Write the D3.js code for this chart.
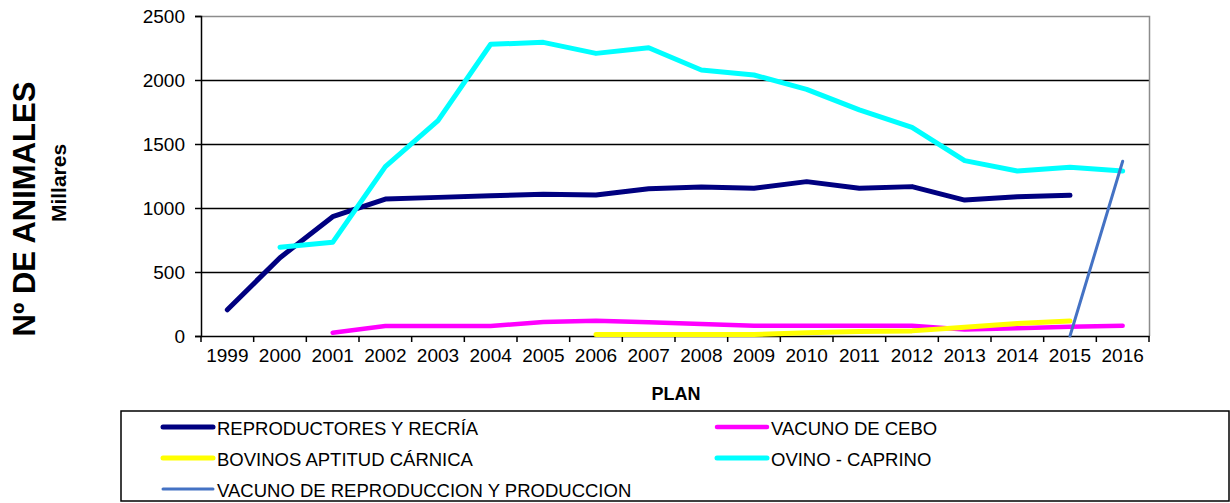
<!DOCTYPE html>
<html>
<head>
<meta charset="utf-8">
<script src="https://cdn.jsdelivr.net/npm/d3@7"></script>
<style>
  body { margin: 0; background: #fff; }
  text { font-family: "Liberation Sans", Arial, sans-serif; fill: #000; }
</style>
</head>
<body>
<div class="chart"></div>
<script>
// values (thousands of animals)
var years = ["1999", "2000", "2001", "2002", "2003", "2004", "2005", "2006", "2007",
             "2008", "2009", "2010", "2011", "2012", "2013", "2014", "2015", "2016"];
var yTicks = [0, 500, 1000, 1500, 2000, 2500];

var reproductores = [205, 612, 932, 1070, 1083, 1096, 1107, 1101, 1151, 1164, 1154, 1206, 1154, 1167, 1062, 1088, 1099, null];
var vacunoCebo    = [null, null, 25, 78, 78, 78, 110, 120, 107, 94, 80, 80, 80, 80, 50, 60, 72, 80];
var bovinos       = [null, null, null, null, null, null, null, 12, 12, 12, 12, 25, 35, 40, 68, 97, 118, null];
var ovino         = [null, 693, 732, 1323, 1682, 2279, 2294, 2208, 2252, 2078, 2039, 1927, 1766, 1630, 1370, 1289, 1318, 1289];
var vacunoRepro   = [null, null, null, null, null, null, null, null, null, null, null, null, null, null, null, null, 0, 1365];

var series = [
    {name: "REPRODUCTORES Y RECRÍA", values: reproductores, color: "#000080", w: 5},
    {name: "VACUNO DE CEBO", values: vacunoCebo, color: "#ff00ff", w: 4.5},
    {name: "BOVINOS APTITUD CÁRNICA", values: bovinos, color: "#ffff00", w: 5},
    {name: "OVINO - CAPRINO", values: ovino, color: "#00ffff", w: 5},
    {name: "VACUNO DE REPRODUCCION Y PRODUCCION", values: vacunoRepro, color: "#4472c4", w: 3}
];

var width = 1230, height = 503;
var plot = {left: 201, right: 1149, top: 16, bottom: 336};

var svg = d3.select(".chart")
    .append("svg")
    .attr("width", width)
    .attr("height", height);

var x = d3.scaleBand().domain(years).range([plot.left, plot.right]).padding(0);
var y = d3.scaleLinear().domain([0, 2500]).range([plot.bottom, plot.top]);

// gridlines
svg.selectAll(".grid")
    .data(yTicks.filter(function(d) { return d > 0 && d < 2500; }))
    .enter().append("line")
    .attr("x1", plot.left).attr("x2", plot.right)
    .attr("y1", function(d) { return y(d) + 0.5; })
    .attr("y2", function(d) { return y(d) + 0.5; })
    .attr("stroke", "#000").attr("stroke-width", 1.3);

// top and right border (grey)
svg.append("path")
    .attr("d", "M" + plot.left + "," + (y(2500) + 0.5) + "H" + (plot.right + 0.5) + "V" + plot.bottom)
    .attr("fill", "none").attr("stroke", "#8c8c8c").attr("stroke-width", 1.5);

// Y axis
var yAxis = d3.axisLeft(y).tickValues(yTicks).tickFormat(d3.format("d")).tickSize(6).tickPadding(10);
var gy = svg.append("g")
    .attr("transform", "translate(" + plot.left + ",0)")
    .call(yAxis);
gy.select(".domain").attr("stroke", "#000").attr("stroke-width", 1.5);
gy.selectAll(".tick line").attr("stroke", "#000").attr("stroke-width", 1.5);
gy.selectAll(".tick text").style("font-size", "19px").attr("fill", "#000");

// X axis, ticks on category boundaries
var xAxis = d3.axisBottom(x).tickSize(0).tickPadding(13);
var gx = svg.append("g")
    .attr("transform", "translate(0," + plot.bottom + ")")
    .call(xAxis);
gx.select(".domain").attr("stroke", "#000").attr("stroke-width", 1.5);
gx.selectAll(".tick text").style("font-size", "19px").attr("fill", "#000").attr("dy", "0.71em");

gx.selectAll(".sep")
    .data(years.concat(["end"]))
    .enter().append("line")
    .attr("x1", function(d, i) { return i < years.length ? x(d) : plot.right; })
    .attr("x2", function(d, i) { return i < years.length ? x(d) : plot.right; })
    .attr("y1", 0).attr("y2", 6)
    .attr("stroke", "#000").attr("stroke-width", 1.5);

// series lines
var line = d3.line()
    .defined(function(d) { return d != null; })
    .x(function(d, i) { return x(years[i]) + x.bandwidth() / 2; })
    .y(function(d) { return y(d); });

svg.selectAll(".serie")
    .data(series)
    .enter().append("path")
    .attr("class", "serie")
    .attr("d", function(s) { return line(s.values); })
    .attr("fill", "none")
    .attr("stroke", function(s) { return s.color; })
    .attr("stroke-width", function(s) { return s.w; })
    .attr("stroke-linecap", "round")
    .attr("stroke-linejoin", "round");

// axis titles
svg.append("text")
    .attr("transform", "translate(35,209) rotate(-90)")
    .attr("text-anchor", "middle")
    .style("font-size", "31px").style("font-weight", "bold")
    .text("Nº DE ANIMALES");

svg.append("text")
    .attr("transform", "translate(66,183) rotate(-90)")
    .attr("text-anchor", "middle")
    .style("font-size", "21px").style("font-weight", "bold")
    .text("Millares");

svg.append("text")
    .attr("x", 676).attr("y", 400)
    .attr("text-anchor", "middle")
    .style("font-size", "18px").style("font-weight", "bold")
    .text("PLAN");

// legend
svg.append("rect")
    .attr("x", 121).attr("y", 411)
    .attr("width", 1108).attr("height", 90)
    .attr("fill", "#fff").attr("stroke", "#000").attr("stroke-width", 1.5);

var legPos = [[163, 427], [717, 427], [163, 458], [717, 458], [163, 489]];
var leg = svg.selectAll(".leg")
    .data(series)
    .enter().append("g")
    .attr("transform", function(s, i) { return "translate(" + legPos[i][0] + "," + legPos[i][1] + ")"; });

leg.append("line")
    .attr("x1", 0).attr("x2", 50).attr("y1", 0).attr("y2", 0)
    .attr("stroke", function(s) { return s.color; })
    .attr("stroke-width", function(s) { return s.w; })
    .attr("stroke-linecap", "round");

leg.append("text")
    .attr("x", 54).attr("y", 8)
    .style("font-size", "18.5px")
    .text(function(s) { return s.name; });
</script>
</body>
</html>
